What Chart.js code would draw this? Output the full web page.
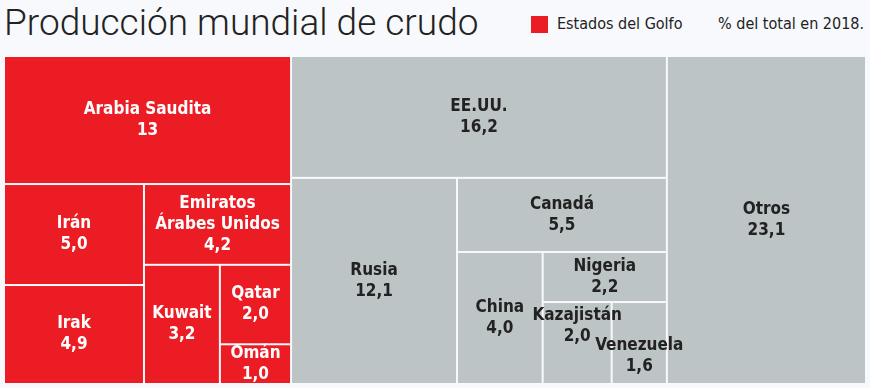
<!DOCTYPE html>
<html>
<head>
<meta charset="utf-8">
<script src="https://cdn.jsdelivr.net/npm/chart.js@4/dist/chart.umd.min.js"></script>
<style>
  body { margin: 0; background: #f7f9fc; width: 870px; height: 388px; overflow: hidden; position: relative; }
  #titulo { position: absolute; left: 4px; top: 1px; font: 300 37px Roboto, "Liberation Sans", sans-serif; color: #222; line-height: 44px; }
  #cuadro { position: absolute; left: 531px; top: 16px; width: 17px; height: 17px; background: #ec1c24; }
  .leyenda { position: absolute; top: 13px; font: 16px "Liberation Sans Narrow", "DejaVu Sans Condensed", sans-serif; color: #222; line-height: 22px; }
  #zona { position: absolute; left: 4px; top: 56px; width: 862px; height: 328px; }
</style>
</head>
<body>
<div id="titulo">Producción mundial de crudo</div>
<div id="cuadro"></div>
<div class="leyenda" style="left:557px">Estados del Golfo</div>
<div class="leyenda" style="left:718px">% del total en 2018.</div>
<div id="zona"><canvas id="mapa"></canvas></div>
<script>
// datos: % de la producción mundial de crudo, 2018
const paises = ['Arabia Saudita', 'Irán', 'Irak', 'Emiratos\nÁrabes Unidos', 'Kuwait', 'Qatar', 'Omán',
                'EE.UU.', 'Rusia', 'Canadá', 'China', 'Nigeria', 'Kazajistán', 'Venezuela', 'Otros'];
const valores = [13, 5.0, 4.9, 4.2, 3.2, 2.0, 1.0, 16.2, 12.1, 5.5, 4.0, 2.2, 2.0, 1.6, 23.1];
const golfo = [1, 1, 1, 1, 1, 1, 1, 0, 0, 0, 0, 0, 0, 0, 0];

const ROJO = '#ec1c24';
const GRIS = '#bdc4c5';

// como se parte cada bloque: 'h' = en columnas, 'v' = en filas
const arbol = {dir: 'h', kids: [
  {dir: 'v', kids: [0, {dir: 'h', kids: [
    {dir: 'v', kids: [1, 2]},
    {dir: 'v', kids: [3, {dir: 'h', kids: [4, {dir: 'v', kids: [5, 6]}]}]}
  ]}]},
  {dir: 'h', kids: [
    {dir: 'v', kids: [7, {dir: 'h', kids: [8, {dir: 'v', kids: [9, {dir: 'h', kids: [10,
      {dir: 'v', kids: [11, {dir: 'h', kids: [12, 13]}]}]}]}]}]},
    14
  ]}
]};

// ajuste vertical de etiquetas que se pisan (px)
const desplazar = {'Kazajistán': -17, 'Venezuela': 13};

function suma(n) {
  return typeof n === 'number' ? valores[n] : n.kids.reduce((s, k) => s + suma(k), 0);
}

function repartir(n, x0, y0, x1, y1, out) {
  if (typeof n === 'number') { out[n] = {x0, y0, x1, y1}; return; }
  const total = suma(n);
  let pos = n.dir === 'h' ? x0 : y0;
  n.kids.forEach(k => {
    const f = suma(k) / total;
    if (n.dir === 'h') {
      const w = (x1 - x0) * f;
      repartir(k, pos, y0, pos + w, y1, out);
      pos += w;
    } else {
      const h = (y1 - y0) * f;
      repartir(k, x0, pos, x1, pos + h, out);
      pos += h;
    }
  });
}

const celdas = [];
repartir(arbol, 0, 0, 100, 100, celdas);

function formato(v) {
  if (Number.isInteger(v) && v >= 10) return String(v);
  return v.toFixed(1).replace('.', ',');
}

const treemapPlugin = {
  id: 'treemap',
  beforeDatasetsDraw(chart) {
    const {ctx, scales: {x, y}} = chart;
    ctx.save();
    celdas.forEach((c, i) => {
      const px0 = x.getPixelForValue(c.x0), px1 = x.getPixelForValue(c.x1);
      const py0 = y.getPixelForValue(c.y0), py1 = y.getPixelForValue(c.y1);
      ctx.fillStyle = golfo[i] ? ROJO : GRIS;
      ctx.fillRect(px0 + 1, py0 + 1, px1 - px0 - 2, py1 - py0 - 2);
    });
    ctx.font = 'bold 17px "Liberation Sans Narrow", "DejaVu Sans Condensed", sans-serif';
    ctx.textAlign = 'center';
    ctx.textBaseline = 'middle';
    celdas.forEach((c, i) => {
      const cx = x.getPixelForValue((c.x0 + c.x1) / 2);
      const cy = y.getPixelForValue((c.y0 + c.y1) / 2) + (desplazar[paises[i]] || 0);
      const lineas = paises[i].split('\n').concat(formato(valores[i]));
      const alto = 21;
      const top = cy - (lineas.length - 1) * alto / 2;
      ctx.fillStyle = golfo[i] ? '#ffffff' : '#222222';
      lineas.forEach((t, j) => ctx.fillText(t, cx, top + j * alto));
    });
    ctx.restore();
  }
};

new Chart(document.getElementById('mapa'), {
  type: 'scatter',
  data: {
    datasets: [{
      label: 'Producción',
      data: celdas.map(c => ({x: (c.x0 + c.x1) / 2, y: (c.y0 + c.y1) / 2})),
      pointRadius: 0,
      pointHoverRadius: 0
    }]
  },
  options: {
    responsive: true,
    maintainAspectRatio: false,
    animation: false,
    layout: {padding: 0},
    scales: {
      x: {type: 'linear', min: 0, max: 100, display: false},
      y: {type: 'linear', min: 0, max: 100, reverse: true, display: false}
    },
    plugins: {
      legend: {display: false},
      tooltip: {enabled: false}
    }
  },
  plugins: [treemapPlugin]
});
</script>
</body>
</html>
